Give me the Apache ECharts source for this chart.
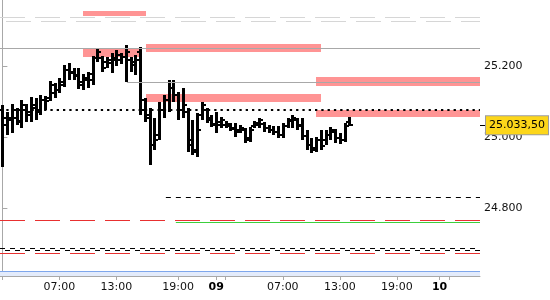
<!DOCTYPE html>
<html><head><meta charset="utf-8">
<script src="https://cdn.jsdelivr.net/npm/echarts@6/dist/echarts.min.js"></script>
<style>html,body{margin:0;padding:0;background:#fff}#c{width:550px;height:300px}</style>
</head><body><div id="c"></div>
<script>
// ---- data ----
const opens = [25076,25034,25048,25054,25042,25076,25062,25082,25070,25104,
25110,25124,25132,25146,25189,25183,25175,25155,25161,25161,
25223,25223,25211,25208,25223,25217,25225,25217,25203,25239,
25104,25054,24977,25006,25076,25104,25138,25118,25076,25070,
24992,24958,25062,25076,25048,25034,25034,25034,25031,25025,
25020,25020,24997,25031,25034,25037,25025,25020,25014,25006,
25031,25048,25048,25034,25003,24977,24969,24992,24992,25006,
25014,24997,24992,25042];
const highs = [25090,25070,25093,25082,25104,25093,25113,25110,25118,25115,
25158,25152,25166,25203,25208,25194,25194,25177,25183,25228,
25251,25228,25225,25237,25245,25237,25259,25225,25231,25254,
25110,25082,25054,25099,25118,25161,25161,25127,25138,25082,
25048,25068,25099,25082,25062,25070,25056,25045,25039,25039,
25034,25025,25028,25045,25054,25042,25034,25031,25031,25039,
25054,25062,25054,25054,25020,24997,25000,25020,25020,25028,
25023,25011,25039,25056];
const lows = [24915,25006,25011,25034,25025,25042,25042,25048,25062,25076,
25101,25110,25124,25141,25161,25161,25135,25132,25138,25146,
25211,25183,25194,25180,25200,25206,25155,25183,25175,25062,
25042,24921,24963,24992,25054,25070,25099,25048,25054,24958,
24949,24944,25048,25039,25028,25011,25025,25025,25017,25000,
25011,24983,24986,25025,25025,25014,25011,25006,24997,24997,
25025,25025,25020,24992,24963,24955,24958,24963,24977,24992,
24983,24980,24986,25031];
const closes = [25054,25054,25076,25045,25090,25070,25090,25070,25104,25101,
25146,25132,25155,25189,25180,25172,25146,25166,25177,25223,
25239,25194,25217,25217,25231,25225,25239,25211,25217,25076,
25062,24977,24992,25076,25104,25138,25118,25076,25090,24977,
24963,25020,25090,25054,25037,25042,25048,25037,25023,25014,
25025,24992,25020,25039,25048,25025,25020,25014,25006,25031,
25045,25054,25031,25003,24977,24963,24992,24975,25006,25020,
24997,24992,25031,25033.5];
const lastPrice = 25033.5;
const lastPriceText = '25.033,50';

const tickSlots  = [0, 12, 24, 37, 45, 47, 59, 71, 83, 92, 94];
const tickLabels = ['', '07:00', '13:00', '19:00', '09', '', '07:00', '13:00', '19:00', '10', ''];
const boldLabels = ['09', '10'];
const yTickValues = [24800, 25000, 25200];
const yTickLabels = ['24.800', '25.000', '25.200'];

// horizontal levels
const levelPrices = [25337, 25327, 25250, 25154, 25078, 24830, 24765, 24760, 24687, 24682, 24672];
const levelStartSlots = [-0.5, -0.5, -0.5, 26.2, -0.5, 34.4, -0.5, 36.5, -0.5, -0.5, -0.5];

// pink zones
const zoneStart = [16.97, 16.97, 30.22, 66.0, 30.22, 66.0];
const zoneEnd   = [30.22, 29.17, 67.05, 100.5, 67.05, 100.5];
const zoneLow   = [25342, 25226, 25240, 25145, 25099, 25057];
const zoneHigh  = [25355, 25249, 25263, 25170, 25121, 25077];

// ---- layout / style ----
const FONT = 'DejaVu Sans';
const X_MIN = -0.5, X_MAX = 100.5;
const Y_MIN = 24608.5, Y_MAX = 25386;
const BAND_TOP = 24620.6;

const levelStyles = [
  {color:'#d6d6d6', width:1, type:[25,10], dashOffset:0},
  {color:'#d6d6d6', width:1, type:[25,10], dashOffset:29},
  {color:'#a8a8a8', width:1, type:'solid'},
  {color:'#a8a8a8', width:1, type:'solid'},
  {color:'#000000', width:2, type:[2.3,4]},
  {color:'#000000', width:1, type:[5,5]},
  {color:'#e83030', width:1, type:[25,10]},
  {color:'#3ccf3c', width:1, type:'solid'},
  {color:'#000000', width:1, type:[5,5], dashOffset:0},
  {color:'#000000', width:1, type:[5,5], dashOffset:5},
  {color:'#e83030', width:1, type:[25,10]}
];

const barData = opens.map((o, i) => [i, o, highs[i], lows[i], closes[i]]);
const zoneData = zoneStart.map((s, i) => [s, zoneEnd[i], zoneLow[i], zoneHigh[i]]);

const levelLines = levelPrices.map((p, i) => [
  {coord:[levelStartSlots[i], p], lineStyle: levelStyles[i]},
  {coord:[X_MAX, p]}
]);

function renderBar(params, api) {
  const x = api.value(0);
  const pO = api.coord([x, api.value(1)]);
  const pH = api.coord([x, api.value(2)]);
  const pL = api.coord([x, api.value(3)]);
  const pC = api.coord([x, api.value(4)]);
  const cx = Math.round(pH[0]);
  const st = {fill:'#000'};
  return {type:'group', children:[
    {type:'rect', shape:{x:cx-1, y:Math.round(pH[1]), width:3, height:Math.max(2, Math.round(pL[1]) - Math.round(pH[1]))}, style:st},
    {type:'rect', shape:{x:cx-3, y:Math.round(pO[1])-1, width:2, height:2}, style:st},
    {type:'rect', shape:{x:cx+2, y:Math.round(pC[1])-1, width:2, height:2}, style:st}
  ]};
}

function renderZone(params, api) {
  const a = api.coord([api.value(0), api.value(3)]);
  const b = api.coord([api.value(1), api.value(2)]);
  return {type:'rect', shape:{x:Math.round(a[0]), y:Math.round(a[1]), width:Math.round(b[0]) - Math.round(a[0]), height:Math.round(b[1]) - Math.round(a[1])}, style:{fill:'#ff9494'}};
}

const chart = echarts.init(document.getElementById('c'), null, {renderer:'canvas'});
chart.setOption({
  animation: false,
  backgroundColor: '#fff',
  grid: {left:0, right:70, top:0, bottom:24, containLabel:false, outerBoundsMode:'none'},
  xAxis: {
    type:'value', min:X_MIN, max:X_MAX,
    splitLine:{show:false},
    axisLine:{show:true, lineStyle:{color:'#a8a8a8', width:1}},
    axisTick:{show:true, customValues:tickSlots, length:4, lineStyle:{color:'#a8a8a8'}},
    axisLabel:{
      customValues: tickSlots.filter((s, i) => tickLabels[i] !== ''),
      formatter: function (v) {
        const i = tickSlots.indexOf(v);
        const t = i >= 0 ? tickLabels[i] : '';
        return boldLabels.indexOf(t) >= 0 ? '{b|' + t + '}' : t;
      },
      fontFamily:FONT, fontSize:11, color:'#111', margin:6,
      rich:{b:{fontFamily:FONT, fontSize:11, fontWeight:'bold', color:'#000'}}
    }
  },
  yAxis: [{
    type:'value', position:'right', min:Y_MIN, max:Y_MAX,
    splitLine:{show:false},
    axisLine:{show:true, lineStyle:{color:'#a8a8a8', width:1}},
    axisTick:{show:true, customValues:yTickValues, length:5, lineStyle:{color:'#a8a8a8'}},
    axisLabel:{
      customValues:yTickValues,
      formatter: v => yTickLabels[yTickValues.indexOf(v)] || '',
      fontFamily:FONT, fontSize:11, color:'#111', margin:4
    }
  }, {
    type:'value', position:'right', min:Y_MIN, max:Y_MAX,
    splitLine:{show:false}, axisLine:{show:false},
    axisTick:{show:true, customValues:[lastPrice], length:5, lineStyle:{color:'#000'}},
    axisLabel:{show:false}
  }],
  series: [
    {
      type:'custom', name:'zones', z:1, renderItem:renderZone, data:zoneData,
      encode:{x:[0,1], y:[2,3]}, silent:true, clip:true
    },
    {
      type:'line', name:'levels', z:2, data:[], silent:true,
      markLine:{silent:true, symbol:['none','none'], label:{show:false}, data:levelLines, animation:false},
      markArea:{silent:true, itemStyle:{color:'#e3ebfb'}, data:[[{coord:[X_MIN, Y_MIN]}, {coord:[X_MAX, BAND_TOP]}]]}
    },
    {
      type:'line', name:'band', z:2, data:[], silent:true,
      markLine:{silent:true, symbol:['none','none'], label:{show:false},
        data:[[{coord:[X_MIN, BAND_TOP], lineStyle:{color:'#7ea6ec', width:1, type:'solid'}}, {coord:[X_MAX, BAND_TOP]}]]}
    },
    {
      type:'custom', name:'bars', z:3, renderItem:renderBar, data:barData,
      encode:{x:0, y:[1,2,3,4]}, silent:true
    },
    {
      type:'line', name:'last', z:5, data:[], silent:true,
      markLine:{silent:true, symbol:['none','none'],
        data:[{yAxis:lastPrice, lineStyle:{width:0, color:'rgba(0,0,0,0)'},
          label:{show:true, position:'end', distance:6, formatter:lastPriceText,
            fontFamily:FONT, fontSize:11, color:'#000',
            backgroundColor:'#fcd61a', borderColor:'#9c9c9c', borderWidth:1,
            padding:[4,3,3,3]}}]}
    }
  ]
});
</script>
</body></html>
